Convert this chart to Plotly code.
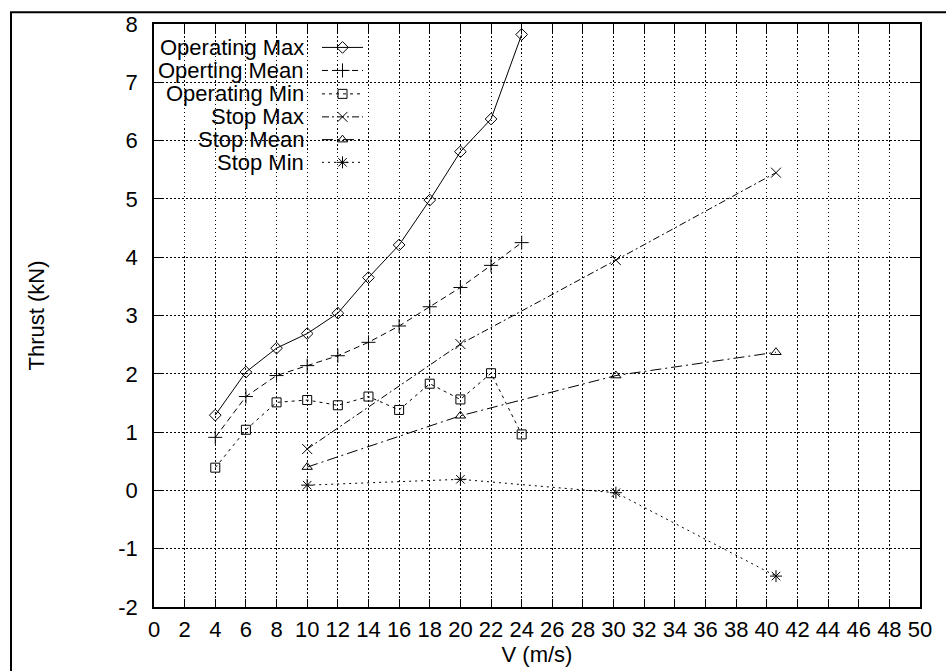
import plotly.graph_objects as go

# Wind speed (m/s) for the operating and stopped test cases
v_oper = [4, 6, 8, 10, 12, 14, 16, 18, 20, 22, 24]
v_stop = [10, 20, 30.15, 40.6]

# Thrust (kN)
oper_max = [1.29, 2.03, 2.44, 2.69, 3.04, 3.65, 4.21, 4.98, 5.81, 6.37, 7.82]
oper_mean = [0.91, 1.61, 1.97, 2.14, 2.31, 2.54, 2.82, 3.15, 3.48, 3.86, 4.25]
oper_min = [0.39, 1.04, 1.51, 1.55, 1.46, 1.61, 1.38, 1.83, 1.56, 2.01, 0.96]
stop_max = [0.71, 2.51, 3.95, 5.45]
stop_mean = [0.40, 1.28, 1.97, 2.37]
stop_min = [0.09, 0.19, -0.04, -1.47]

x_ticks = list(range(0, 51, 2))
y_ticks = list(range(-2, 9, 1))
y_ticktext = [str(v) for v in y_ticks]  # plain hyphen for negatives

names = ["Operating Max", "Operting Mean", "Operating Min",
         "Stop Max", "Stop Mean", "Stop Min"]
xs = [v_oper, v_oper, v_oper, v_stop, v_stop, v_stop]
ys = [oper_max, oper_mean, oper_min, stop_max, stop_mean, stop_min]
dashes = ["solid", "6px,4px", "3px,4px", "7px,3px,2px,3px",
          "11px,4px,2px,4px", "2px,4px"]
symbols = ["diamond-open", "cross-thin-open", "square-open",
           "x-thin-open", "triangle-up-open", "asterisk-open"]
sizes = [9, 10, 9, 10, 9, 10]

FONT = "Liberation Sans, Arial, Helvetica, sans-serif"
FS = 22

# plot area size in pixels (used for the key drawn on an overlay axis)
W, H = 766, 590
L, R, T, B = 154, 26, 23, 58

fig = go.Figure()

for name, x, y, d, s, sz in zip(names, xs, ys, dashes, symbols, sizes):
    fig.add_trace(go.Scatter(
        x=x, y=y, name=name, mode="lines+markers",
        line=dict(color="black", width=1, dash=d),
        marker=dict(symbol=s, size=sz, color="black",
                    line=dict(color="black", width=1)),
        showlegend=False,
    ))

# key: right-aligned labels with line samples to their right
row_y = [566.3, 543, 519.3, 496, 473, 450]
for name, d, s, sz, ry in zip(names, dashes, symbols, sizes, row_y):
    fig.add_trace(go.Scatter(
        x=[168, 209], y=[ry, ry], mode="lines", xaxis="x2", yaxis="y2",
        line=dict(color="black", width=1, dash=d), showlegend=False,
        hoverinfo="skip", cliponaxis=False))
    fig.add_trace(go.Scatter(
        x=[188.5], y=[ry], mode="markers", xaxis="x2", yaxis="y2",
        marker=dict(symbol=s, size=sz, color="black",
                    line=dict(color="black", width=1)),
        showlegend=False, hoverinfo="skip", cliponaxis=False))
    fig.add_annotation(
        x=152, y=ry, xref="x2", yref="y2", text=name, showarrow=False,
        xanchor="right", yanchor="middle",
        font=dict(family=FONT, size=22, color="black"))

axis_common = dict(
    showline=True, linecolor="black", linewidth=1.5, mirror="ticks",
    ticks="inside", ticklen=8, tickwidth=1, tickcolor="black",
    showgrid=True, gridcolor="black", gridwidth=1, griddash="1.5px,2.5px",
    zeroline=False, tickfont=dict(family=FONT, size=FS, color="black"),
)

fig.update_layout(
    width=946, height=671,
    margin=dict(l=L, r=R, t=T, b=B, pad=0),
    paper_bgcolor="white", plot_bgcolor="white",
    font=dict(family=FONT, size=FS, color="black"),
    xaxis=dict(range=[0, 50], tickvals=x_ticks, ticklabelstandoff=2,
               title=dict(text="V (m/s)", standoff=1,
                          font=dict(family=FONT, size=FS)),
               **axis_common),
    yaxis=dict(range=[-2, 8], tickvals=y_ticks, ticktext=y_ticktext,
               ticklabelstandoff=10,
               title=dict(text="Thrust (kN)", standoff=68,
                          font=dict(family=FONT, size=FS)),
               **axis_common),
    xaxis2=dict(range=[0, W], overlaying="x", visible=False),
    yaxis2=dict(range=[0, H], overlaying="y", visible=False),
)

# outer page frame
fig.add_shape(type="rect", xref="paper", yref="paper",
              x0=(11 - L) / W, y0=-0.2, x1=1.1, y1=1 + (T - 11) / H,
              line=dict(color="black", width=2), layer="above")

fig.write_html("out.html")
